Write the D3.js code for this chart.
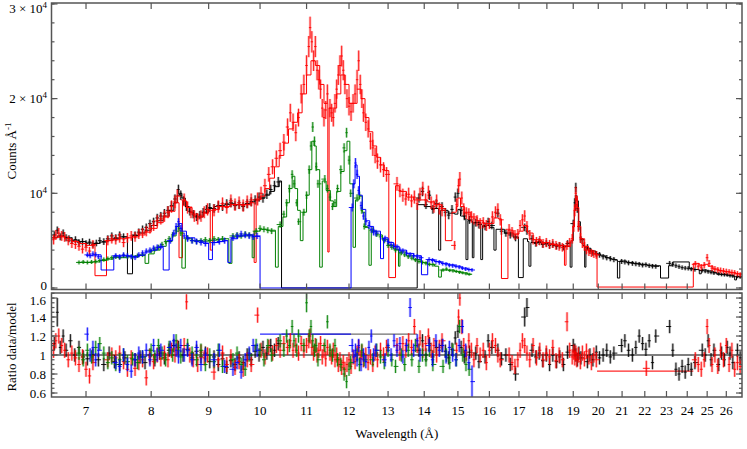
<!DOCTYPE html>
<html><head><meta charset="utf-8">
<script src="https://cdn.jsdelivr.net/npm/d3@7"></script>
<style>
body{margin:0;background:#fff}
svg{display:block}
text{font-family:"Liberation Serif","Times New Roman",serif;fill:#000}
</style>
</head><body><svg id="c" width="747" height="449"></svg>
<script>
// ---------------- DATA ----------------
const xTicks = [7,8,9,10,11,12,13,14,15,16,17,18,19,20,21,22,23,24,25,26];
const countTicks = [0,10000,20000,30000];
const countTickMant = ["0","","2 × ","3 × "];
const ratioTicks = [0.6,0.8,1,1.2,1.4,1.6];

// [wavelength (Å), counts/Å]
const blackCounts = [[6.56,5600],[6.60,6100],[6.64,5400],[6.68,5800],[6.72,5300],[6.76,5200],[6.80,5000],[6.85,5100],[6.90,4800],[6.95,4900],[7.00,4700],[7.05,4850],[7.10,4600],[7.15,4750],[7.20,5000],[7.26,4900],[7.32,5200],[7.38,5500],[7.44,5300],[7.50,5600],[7.56,5400],[7.74,5600],[7.80,5900],[7.86,6200],[7.92,6400],[7.98,6800],[8.04,7000],[8.10,7400],[8.16,7600],[8.22,7900],[8.28,8200],[8.34,8700],[8.40,9400],[8.46,10400],[8.50,9800],[8.55,9200],[8.60,8600],[8.66,8100],[8.72,7800],[8.78,7500],[8.84,7700],[8.90,8000],[8.96,8300],[9.02,8500],[9.10,8400],[9.18,8700],[9.26,8600],[9.34,8900],[9.42,9000],[9.50,8700],[9.58,8800],[9.66,8600],[9.74,8900],[9.82,9100],[9.90,9300],[9.98,9600],[10.06,9500],[10.14,9900],[10.22,10400],[10.30,10800],[10.38,11200],
[13.85,9500],[13.95,10200],[14.05,8800],[14.15,9800],[14.25,8300],[14.35,8900],[14.52,8600],[14.62,8000],[14.72,7700],[14.82,8300],[14.92,9600],[15.0,10000],[15.1,8200],[15.2,7600],[15.36,7200],[15.56,6900],[15.66,6700],[15.86,6500],[15.96,7000],[16.08,6600],[16.28,7900],[16.4,6000],[16.55,5800],[16.7,5600],[16.88,5300],[17.2,6400],[17.28,6000],[17.46,5200],[17.6,4700],[17.72,4900],[17.85,4600],[17.98,4700],[18.1,4500],[18.22,4600],[18.36,4400],[18.48,4500],[18.62,4300],[18.78,4700],[19.0,6800],[19.06,9000],[19.1,10600],[19.16,8400],[19.22,6500],[19.3,5100],[19.56,4300],[19.66,3900],[19.78,3700],[19.92,3600],[20.05,3500],[20.2,3300],[20.35,3200],[20.5,3100],[20.65,3000],[20.98,2800],[21.12,2750],[21.28,2650],[21.45,2600],[21.6,2550],[21.75,2500],[21.9,2420],[22.05,2450],[22.2,2350],[22.35,2300],[22.5,2280],[23.15,2600],[23.3,2500],[23.45,2350],[23.6,2250],[23.75,2150],[23.9,2100],[24.05,2080],[24.2,2000],[24.38,1950],[24.75,1850],[24.9,1780],[25.05,1720],[25.2,1650],[25.35,1580],[25.6,1500],[25.75,1420],[25.9,1400],[26.05,1380],[26.2,1300],[26.35,1250],[26.6,1200],[26.75,1150]];
// model: [wavelength where the step starts, model counts]
const blackModel = [[6.52,5300],[6.6,5500],[6.7,5300],[6.8,5050],[6.9,4900],[7.0,4750],[7.1,4700],[7.2,4850],[7.3,5050],[7.4,5250],[7.5,5400],[7.62,1500],[7.7,5550],[7.8,5800],[7.9,6100],[8.0,6600],[8.1,7100],[8.2,7600],[8.3,8200],[8.38,9000],[8.44,9800],[8.48,10000],[8.52,9500],[8.58,8600],[8.65,8000],[8.72,7600],[8.8,7500],[8.9,8000],[9.0,8400],[9.1,8600],[9.2,8700],[9.3,8800],[9.4,8900],[9.5,8800],[9.6,8800],[9.7,8900],[9.8,9100],[9.9,9300],[10.0,9500],[10.1,9800],[10.2,10200],[10.3,10700],[10.4,11300],[10.45,0],[13.8,8800],[14.0,8600],[14.2,8400],[14.42,4000],[14.48,8200],[14.7,7900],[14.9,7800],[15.0,8300],[15.08,7600],[15.2,7300],[15.25,3000],[15.31,7100],[15.45,3200],[15.5,6900],[15.72,3000],[15.78,6600],[16.0,6400],[16.15,4000],[16.22,6200],[16.5,5800],[16.8,5400],[16.98,1100],[17.15,5200],[17.3,4900],[17.35,2300],[17.42,4800],[17.8,4650],[18.2,4500],[18.6,4400],[18.88,2200],[18.95,5000],[19.0,6500],[19.04,8200],[19.08,9800],[19.14,9200],[19.2,7000],[19.28,5200],[19.38,4500],[19.45,2200],[19.5,4200],[19.7,3900],[19.9,3600],[20.1,3400],[20.3,3200],[20.5,3050],[20.7,2950],[20.8,1050],[20.9,2850],[21.2,2700],[21.5,2600],[21.8,2500],[22.1,2400],[22.4,2350],[22.72,1050],[23.1,2350],[23.3,2750],[24.1,2050],[24.3,1950],[24.6,1500],[24.7,1900],[25.0,1800],[25.3,1650],[25.5,1450],[26.0,1350],[26.4,1250],[26.45,850],[26.55,1200],[26.85,1200]];

const redCounts = [[6.55,5100],[6.58,5600],[6.62,5800],[6.66,5500],[6.70,5400],[6.75,5000],[6.80,4700],[6.85,4600],[6.90,4400],[6.95,4100],[7.00,4300],[7.05,3900],[7.10,4600],[7.32,5000],[7.38,5200],[7.44,5100],[7.50,5300],[7.56,4800],[7.62,5300],[7.68,5500],[7.74,5400],[7.80,5700],[7.86,5800],[7.92,6000],[7.98,6300],[8.04,6600],[8.10,7100],[8.16,7300],[8.22,7600],[8.28,8000],[8.34,8600],[8.40,9100],[8.44,9700],[8.56,9300],[8.62,8500],[8.68,8000],[8.74,7600],[8.80,7300],[8.86,7600],[8.92,8000],[8.98,8300],[9.10,8200],[9.18,8600],[9.26,8900],[9.34,8500],[9.42,9200],[9.50,8800],[9.58,9000],[9.66,8700],[9.74,9100],[9.82,9300],[9.95,9400],[10.02,10000],[10.1,10800],[10.18,12000],[10.26,12800],[10.34,13700],[10.42,14500],[10.5,15400],[10.58,17000],[10.64,18500],[10.70,17500],[10.76,16400],[10.82,18000],[10.88,20500],[10.94,21500],[11.0,23500],[11.05,25500],[11.08,27500],[11.12,26000],[11.16,24000],[11.2,25500],[11.24,23000],[11.28,22000],[11.32,21000],[11.36,19000],[11.4,18000],[11.44,18800],[11.48,20500],[11.54,19000],[11.58,18500],[11.62,18000],[11.66,19500],[11.7,21000],[11.74,22500],[11.78,23500],[11.82,24500],[11.86,23000],[11.9,21500],[11.95,20000],[12.0,19200],[12.05,18600],[12.1,19500],[12.15,20500],[12.2,22000],[12.24,24000],[12.28,21500],[12.32,20000],[12.36,18500],[12.42,17500],[12.48,16800],[12.54,15500],[12.6,14800],[12.66,14000],[12.72,13400],[12.8,13000],[12.88,12500],[12.96,12000],[13.24,11000],[13.32,10300],[13.4,9800],[13.48,9400],[13.56,9900],[13.64,9200],[13.72,9600],[13.8,8900],[13.88,9900],[13.96,10500],[14.04,9300],[14.12,10100],[14.2,9000],[14.28,8600],[14.36,9200],[14.44,8400],[14.52,8200],[14.9,4500],[14.96,8800],[15.02,10800],[15.06,11500],[15.12,9500],[15.18,8300],[15.26,7900],[15.34,7800],[15.42,7500],[15.5,7300],[15.6,7100],[15.7,6800],[15.8,6900],[15.9,6600],[16.0,6800],[16.1,7500],[16.2,8000],[16.28,8300],[16.36,7200],[16.66,6200],[16.76,5900],[16.86,5600],[16.96,5700],[17.04,6600],[17.12,7200],[17.2,7600],[17.28,6500],[17.38,5600],[17.5,5100],[17.62,4900],[17.74,5000],[17.86,4700],[17.98,4800],[18.1,4600],[18.22,4700],[18.34,4500],[18.46,4400],[18.58,4300],[18.76,4500],[18.86,4800],[18.96,5200],[19.02,6500],[19.06,8200],[19.1,10000],[19.14,8800],[19.2,6500],[19.28,5300],[19.36,4700],[19.44,4400],[19.52,4000],[19.62,3800],[19.72,3700],[19.82,3600],[19.92,3500],[24.4,2500],[24.55,2300],[24.7,2200],[24.85,2400],[25.0,3200],[25.1,2600],[25.25,2100],[25.4,2000],[25.55,1900],[25.7,1850],[25.85,1800],[26.0,1750],[26.15,1700],[26.3,1650],[26.45,1600],[26.6,1500],[26.75,1400]];
const redModel = [[6.52,5300],[6.6,5400],[6.7,5200],[6.8,4900],[6.9,4700],[7.0,4500],[7.13,1300],[7.3,5000],[7.4,5100],[7.5,5200],[7.6,5300],[7.7,5400],[7.8,5600],[7.9,5900],[8.0,6300],[8.1,6900],[8.2,7500],[8.3,8100],[8.4,9000],[8.47,3200],[8.53,9200],[8.6,8500],[8.7,7800],[8.8,7500],[8.9,7900],[9.0,8200],[9.03,4000],[9.07,8300],[9.2,8600],[9.4,8800],[9.6,8800],[9.8,9000],[9.88,2700],[9.92,9300],[10.0,9700],[10.1,10500],[10.2,11600],[10.3,12800],[10.4,14000],[10.5,15300],[10.6,16800],[10.7,17500],[10.8,18500],[10.9,20500],[11.0,22500],[11.1,24000],[11.2,23500],[11.3,21500],[11.4,19500],[11.49,3800],[11.52,19000],[11.6,19000],[11.7,20500],[11.8,22500],[11.9,21500],[12.0,19500],[12.1,19500],[12.2,21000],[12.3,20000],[12.4,18000],[12.5,16500],[12.6,15000],[12.7,13800],[12.8,13000],[12.9,12400],[13.02,1100],[13.2,10800],[13.3,10200],[13.5,9600],[13.7,9300],[13.9,9300],[14.1,9100],[14.3,8800],[14.5,8400],[14.62,5000],[14.82,8000],[14.95,8600],[15.0,9500],[15.08,8600],[15.2,8000],[15.4,7500],[15.6,7100],[15.8,6800],[16.0,6800],[16.15,7400],[16.3,7300],[16.4,1000],[16.62,6100],[16.8,5700],[17.0,6000],[17.15,6600],[17.3,5800],[17.5,5100],[17.8,4800],[18.1,4600],[18.4,4500],[18.66,2400],[18.72,4400],[18.9,5000],[18.98,6500],[19.04,8500],[19.1,9700],[19.16,8500],[19.22,6500],[19.3,5200],[19.45,4400],[19.6,3900],[19.8,3600],[19.95,100],[24.3,2600],[24.6,2400],[24.85,2500],[25.05,2300],[25.3,2000],[25.6,1800],[25.9,1700],[26.2,1600],[26.5,1500],[26.85,1500]];

const greenCounts = [[6.90,2700],[6.96,2750],[7.02,2700],[7.08,2750],[7.14,2800],[7.20,2900],[7.26,3000],[7.32,3100],[7.38,3200],[7.44,3300],[7.50,3200],[7.56,3400],[7.62,3300],[7.70,3300],[7.78,3400],[7.86,3500],[8.00,3900],[8.06,4100],[8.12,4300],[8.18,4600],[8.24,4900],[8.30,5200],[8.36,5600],[8.42,6100],[8.46,6500],[8.50,5800],[8.62,5300],[8.70,5000],[8.78,4900],[8.86,5000],[8.94,5100],[9.02,5000],[9.10,5200],[9.18,5100],[9.26,5200],[9.46,5500],[9.54,5600],[9.62,5500],[9.70,5700],[9.78,5600],[9.92,6000],[10.0,6300],[10.08,6200],[10.16,6100],[10.24,6000],[10.42,6700],[10.5,7800],[10.56,9000],[10.62,10500],[10.68,12000],[10.72,11000],[10.78,9000],[10.82,7000],[10.94,8000],[11.0,9800],[11.06,12500],[11.1,15000],[11.14,17000],[11.18,15500],[11.22,12800],[11.26,11000],[11.42,11500],[11.48,10500],[11.54,9600],[11.6,8600],[11.66,9000],[11.72,10500],[11.8,12500],[11.88,14800],[11.94,16400],[12.0,13500],[12.04,10000],[12.2,9500],[12.26,9800],[12.32,8200],[12.38,6500],[12.6,6100],[12.7,5700],[12.8,5400],[12.9,5000],[13.0,4500],[13.1,4300],[13.2,4000],[13.36,3700],[13.45,3500],[13.55,3300],[13.65,3150],[13.75,2950],[13.85,2800],[13.95,2700],[14.05,2600],[14.15,2500],[14.25,2450],[14.55,1900],[14.65,2000],[14.75,1850],[14.85,1800],[14.95,1750],[15.05,1650],[15.15,1600],[15.25,1500],[15.35,1450]];
const greenModel = [[6.88,2700],[7.0,2700],[7.1,2750],[7.2,2900],[7.3,3050],[7.4,3250],[7.5,3200],[7.6,3300],[7.7,3350],[7.8,3450],[7.9,2600],[7.96,3600],[8.05,4000],[8.15,4400],[8.25,4900],[8.35,5500],[8.42,6000],[8.47,6300],[8.52,2100],[8.58,5200],[8.7,5000],[8.85,4950],[9.0,5050],[9.15,5150],[9.3,5200],[9.38,2600],[9.44,5400],[9.6,5500],[9.75,5600],[9.84,3200],[9.88,6000],[10.0,6200],[10.15,6100],[10.32,2200],[10.38,6500],[10.48,7500],[10.56,9000],[10.62,10500],[10.68,11800],[10.74,10500],[10.8,8200],[10.86,5000],[10.92,8000],[11.0,9800],[11.06,12500],[11.12,15500],[11.17,15000],[11.22,12500],[11.3,2200],[11.36,11300],[11.45,10300],[11.55,9200],[11.62,8600],[11.7,10200],[11.8,12300],[11.88,14500],[11.95,15500],[12.02,11000],[12.1,4300],[12.16,9300],[12.25,9700],[12.33,8000],[12.4,6400],[12.5,2400],[12.56,6000],[12.7,5600],[12.85,5100],[13.0,4500],[13.15,4100],[13.28,2300],[13.32,3800],[13.5,3400],[13.7,3000],[13.9,2700],[14.1,2500],[14.3,2300],[14.42,1150],[14.5,1900],[14.7,1900],[14.9,1750],[15.1,1600],[15.3,1450],[15.42,1450]];

const blueCounts = [[7.02,3500],[7.06,3400],[7.10,3600],[7.14,3500],[7.18,3300],[7.44,3400],[7.50,3300],[7.56,3500],[7.62,3400],[7.68,3300],[7.74,3200],[7.80,3500],[7.86,3700],[7.92,3900],[7.98,4000],[8.04,4200],[8.10,4300],[8.16,4400],[8.32,5000],[8.38,5800],[8.42,6500],[8.46,7000],[8.50,6300],[8.56,5500],[8.62,5200],[8.70,5000],[8.78,4900],[8.86,4800],[8.94,4700],[9.10,4800],[9.20,4900],[9.30,5000],[9.46,5300],[9.54,5500],[9.62,5700],[9.70,5600],[9.78,5500],[9.86,5400],[9.94,5500],[12.08,8500],[12.12,11000],[12.16,13200],[12.2,12000],[12.24,10300],[12.3,8700],[12.36,7600],[12.42,7000],[12.5,6600],[12.56,6200],[12.62,5900],[12.68,5800],[12.92,5200],[13.0,4900],[13.08,4600],[13.16,4400],[13.24,4300],[13.32,4000],[13.4,3900],[13.5,3700],[13.6,3500],[13.7,3400],[13.8,3300],[13.88,3200],[14.14,3000],[14.24,2900],[14.34,2800],[14.44,2700],[14.54,2600],[14.64,2500],[14.74,2400],[14.84,2350],[14.94,2300],[15.04,2200],[15.14,2100],[15.24,2000],[15.34,1950],[15.44,1900]];
const blueModel = [[7.0,3450],[7.1,3500],[7.22,1900],[7.41,3400],[7.55,3400],[7.7,3300],[7.8,3450],[7.9,3800],[8.0,4000],[8.1,4300],[8.2,1900],[8.3,5000],[8.36,5700],[8.42,6500],[8.47,6800],[8.52,6000],[8.6,5300],[8.75,4950],[8.9,4750],[9.0,3000],[9.07,4800],[9.2,4900],[9.3,5000],[9.36,2700],[9.42,5200],[9.55,5500],[9.7,5600],[9.85,5450],[10.0,0],[12.05,8500],[12.1,11000],[12.15,13000],[12.2,11800],[12.26,9800],[12.33,8300],[12.42,7100],[12.52,6500],[12.62,6000],[12.8,3100],[12.88,5300],[13.0,4800],[13.15,4400],[13.3,4000],[13.5,3650],[13.7,3400],[13.92,1400],[14.1,3000],[14.3,2800],[14.5,2600],[14.7,2450],[14.9,2300],[15.1,2100],[15.3,1950],[15.46,1950]];

// ratio panel: [wavelength, data/model, optional error]
const blackRatio = [[6.56,1.12],[6.6,1.45,0.15],[6.64,1.08],[6.68,1.2],[6.72,1.05],[6.78,1.15],[6.84,1.0],[6.9,1.08],[6.96,0.98],[7.02,0.96],[7.1,1.0],[7.18,0.95],[7.26,0.9],[7.34,1.02],[7.42,0.93],[7.5,0.9],[7.58,0.97],[7.74,0.95],[7.82,0.98],[7.9,0.92],[7.98,1.0],[8.06,0.95],[8.14,1.02],[8.22,0.97],[8.3,1.05],[8.38,1.1],[8.46,1.08],[8.54,1.0],[8.62,1.06],[8.7,0.97],[8.78,1.04],[8.86,0.98],[8.94,1.02],[9.02,0.93],[9.1,0.98],[9.18,0.9],[9.26,0.96],[9.34,0.87],[9.42,0.94],[9.5,0.9],[9.58,0.97],[9.66,0.92],[9.74,1.0],[9.82,0.95],[9.9,1.04],[9.98,1.0],[10.06,1.08],[10.14,1.02],[10.22,1.1],[10.3,1.05],[10.38,1.12],[13.85,1.05],[13.95,1.15],[14.05,1.0],[14.15,1.12],[14.25,0.98],[14.35,1.08],[14.52,1.1],[14.62,1.04],[14.72,0.97],[14.82,1.06],[14.92,1.18],[15.0,1.25],[15.1,1.08],[15.2,0.98],[15.36,1.03],[15.56,1.02],[15.66,0.93],[15.86,0.98],[15.96,1.15],[16.08,1.08],[16.28,1.05],[16.4,0.96],[16.55,1.0],[16.7,0.9],[16.88,0.8],[17.2,1.4,0.1],[17.28,1.5,0.1],[17.46,1.05],[17.6,0.98],[17.72,1.02],[17.85,0.94],[17.98,1.0],[18.1,0.9],[18.22,1.0],[18.36,0.93],[18.48,0.98],[18.62,0.9],[18.78,1.03],[19.0,1.1],[19.06,1.05],[19.1,1.0],[19.16,0.95],[19.22,1.02],[19.3,0.97],[19.56,0.93],[19.66,1.0],[19.78,0.95],[19.92,1.03],[20.05,0.97],[20.2,1.0],[20.35,1.05],[20.5,0.98],[20.65,1.02],[20.98,1.1],[21.12,1.15],[21.28,1.05],[21.45,1.0],[21.6,1.08],[21.75,1.2],[21.9,1.12],[22.05,1.06],[22.2,1.15],[22.35,0.92],[22.5,1.2],[23.15,1.3],[23.3,1.05],[23.45,0.85],[23.6,0.8],[23.75,0.88],[23.9,0.82],[24.05,0.9],[24.2,0.85],[24.38,0.92],[24.75,1.05],[24.9,1.0],[25.05,1.15],[25.2,0.95],[25.35,1.05],[25.6,0.9],[25.75,1.02],[25.9,0.95],[26.05,1.08],[26.2,1.02],[26.35,0.92],[26.6,1.05],[26.75,0.97]];
const redRatio = [[6.55,1.05],[6.58,1.15],[6.62,1.2],[6.66,1.1],[6.7,1.05],[6.75,0.95],[6.8,1.02],[6.85,0.97],[6.9,0.9],[6.95,0.98],[7.0,0.85],[7.05,0.78],[7.1,0.92],[7.32,0.95],[7.38,1.0],[7.44,0.97],[7.5,1.02],[7.56,0.93],[7.62,0.85],[7.68,0.97],[7.74,0.86],[7.8,0.92],[7.86,0.95],[7.92,0.76],[7.98,0.98],[8.04,0.93],[8.1,1.0],[8.16,0.96],[8.22,1.02],[8.28,0.95],[8.34,1.05],[8.4,1.0],[8.44,1.08],[8.56,1.1],[8.6,1.56],[8.66,1.0],[8.72,0.95],[8.8,0.9],[8.86,1.03],[8.92,0.97],[8.98,1.0],[9.1,0.82],[9.18,0.95],[9.26,1.02],[9.34,0.9],[9.42,0.98],[9.5,0.87],[9.58,0.93],[9.66,0.85],[9.74,0.95],[9.82,0.9],[9.95,1.42],[10.02,1.05],[10.1,0.98],[10.18,1.08],[10.26,1.02],[10.34,1.1],[10.42,1.05],[10.5,1.12],[10.58,1.08],[10.64,1.15],[10.7,1.05],[10.76,1.1],[10.82,1.02],[10.88,1.12],[10.94,1.05],[11.0,1.1],[11.05,1.15],[11.08,1.2],[11.12,1.08],[11.16,1.02],[11.2,1.1],[11.24,1.0],[11.28,1.05],[11.32,1.12],[11.36,0.98],[11.4,1.05],[11.44,0.96],[11.48,1.08],[11.54,1.02],[11.58,0.98],[11.62,1.05],[11.66,0.95],[11.7,1.0],[11.74,0.9],[11.78,0.95],[11.82,0.87],[11.86,0.92],[11.9,0.85],[11.95,0.9],[12.0,0.95],[12.05,0.88],[12.1,0.98],[12.15,0.93],[12.2,1.02],[12.24,1.08],[12.28,0.97],[12.32,1.03],[12.36,0.95],[12.42,1.0],[12.48,0.92],[12.54,0.98],[12.6,0.9],[12.66,1.02],[12.72,0.95],[12.8,1.05],[12.88,1.0],[12.96,1.08],[13.24,1.1],[13.32,1.02],[13.4,1.12],[13.48,1.05],[13.56,1.15],[13.64,1.08],[13.72,1.3],[13.8,1.1],[13.88,1.18],[13.96,1.05],[14.04,1.12],[14.12,1.2],[14.2,1.05],[14.28,1.1],[14.36,1.0],[14.44,1.08],[14.52,1.15],[14.96,1.05],[15.02,1.4],[15.06,1.6],[15.12,1.3],[15.18,1.1],[15.26,1.02],[15.34,1.15],[15.42,1.05],[15.5,0.95],[15.6,1.1],[15.7,1.0],[15.8,1.05],[15.9,0.92],[16.0,1.05],[16.1,1.15],[16.2,1.1],[16.28,1.0],[16.36,0.95],[16.66,1.0],[16.76,0.92],[16.86,0.88],[16.96,0.95],[17.04,1.05],[17.12,1.15],[17.2,1.1],[17.28,1.02],[17.38,0.95],[17.5,1.1],[17.62,0.97],[17.74,1.05],[17.86,0.95],[17.98,1.02],[18.1,0.98],[18.22,1.08],[18.34,0.94],[18.46,1.0],[18.58,0.95],[18.76,1.35,0.1],[18.86,1.05],[18.96,0.98],[19.02,1.03],[19.06,0.97],[19.1,1.02],[19.14,0.95],[19.2,1.0],[19.28,0.93],[19.36,1.02],[19.44,0.96],[19.52,1.04],[19.62,0.98],[19.72,0.92],[19.82,1.0],[19.92,0.95],[22.07,0.86],[24.4,0.95],[24.55,0.9],[24.7,0.85],[24.85,0.95],[25.0,1.3],[25.1,1.1],[25.25,0.9],[25.4,1.0],[25.55,0.88],[25.7,1.05],[25.85,0.95],[26.0,1.1],[26.15,0.9],[26.3,1.05],[26.45,0.85],[26.6,0.92],[26.75,0.88]];
const greenRatio = [[6.9,1.02],[6.96,0.95],[7.02,1.05],[7.08,0.98],[7.14,1.08],[7.2,1.12],[7.26,1.02],[7.32,0.92],[7.38,0.97],[7.44,0.9],[7.5,0.95],[7.56,1.0],[7.62,0.93],[7.7,0.96],[7.78,0.92],[7.86,0.98],[8.0,1.05],[8.06,0.98],[8.12,1.1],[8.18,1.02],[8.24,0.95],[8.3,1.08],[8.36,1.0],[8.42,1.15],[8.46,1.05],[8.5,0.98],[8.62,1.1],[8.7,1.02],[8.78,0.95],[8.86,1.05],[8.94,0.9],[9.02,1.0],[9.1,0.93],[9.18,1.05],[9.26,0.88],[9.46,0.95],[9.54,1.02],[9.62,0.9],[9.7,0.85],[9.78,1.0],[9.92,1.1],[10.0,1.05],[10.08,0.95],[10.16,1.1],[10.24,1.0],[10.42,1.15],[10.5,1.05],[10.56,1.2],[10.62,1.1],[10.68,1.3],[10.72,1.15],[10.78,1.05],[10.82,1.2],[10.94,1.1],[11.0,1.55,0.1],[11.06,1.2],[11.1,1.3],[11.14,1.15],[11.18,1.05],[11.22,1.1],[11.26,0.95],[11.42,1.1],[11.48,1.35],[11.54,1.05],[11.6,1.0],[11.66,1.1],[11.72,0.95],[11.8,0.9],[11.88,0.8],[11.94,0.72],[12.0,0.85],[12.04,0.92],[12.2,1.0],[12.26,0.9],[12.32,1.05],[12.38,0.95],[12.6,0.95],[12.7,1.05],[12.8,0.98],[12.9,0.92],[13.0,1.05],[13.1,0.95],[13.2,0.88],[13.36,1.0],[13.45,0.9],[13.55,1.05],[13.65,0.95],[13.75,1.1],[13.85,0.88],[13.95,1.0],[14.05,0.95],[14.15,1.05],[14.25,0.9],[14.55,0.88],[14.65,1.0],[14.75,0.92],[14.85,1.05],[14.95,0.95],[15.05,1.3],[15.15,1.0],[15.25,0.9],[15.35,0.85]];
const blueRatio = [[7.02,1.22],[7.06,1.0],[7.1,1.08],[7.14,0.95],[7.18,1.05],[7.44,0.92],[7.5,0.88],[7.56,1.0],[7.62,0.9],[7.68,0.83],[7.74,0.95],[7.8,1.02],[7.86,0.98],[7.92,1.05],[7.98,0.95],[8.04,1.1],[8.1,1.0],[8.16,1.05],[8.32,1.08],[8.38,1.15],[8.42,1.05],[8.46,0.98],[8.5,1.1],[8.56,1.0],[8.62,1.05],[8.7,0.95],[8.78,1.08],[8.86,0.9],[8.94,1.0],[9.1,0.95],[9.2,1.05],[9.3,0.88],[9.46,0.85],[9.54,0.92],[9.62,0.82],[9.7,0.95],[9.78,1.02],[9.86,1.1],[9.94,1.05],[12.08,1.1],[12.12,0.98],[12.16,1.05],[12.2,0.95],[12.24,1.1],[12.3,0.9],[12.36,1.0],[12.42,0.93],[12.5,1.08],[12.56,1.2],[12.62,1.0],[12.68,1.05],[12.92,0.95],[13.0,1.1],[13.08,1.0],[13.16,1.15],[13.24,1.05],[13.32,1.12],[13.4,0.98],[13.5,1.1],[13.6,1.5,0.1],[13.7,1.05],[13.8,1.15],[13.88,1.0],[14.14,1.1],[14.24,0.95],[14.34,1.15],[14.44,1.05],[14.54,1.1],[14.64,0.98],[14.74,1.08],[14.84,1.0],[14.94,0.95],[15.04,1.1],[15.14,1.3],[15.24,1.05],[15.34,0.92],[15.44,0.72,0.17]];

// ratio where the model is empty
const gapSeries = ["black","blue","red"];
const gapStart = [10.45,10.0,19.95];
const gapEnd = [13.8,12.05,24.3];
const gapRatio = [1.22,1.22,0.83];

// ---------------- DRAWING ----------------
const colors = {black:"#000000", red:"#ff0000", green:"#008000", blue:"#0000ff"};
const errK = {black:5, red:7, green:4, blue:4.5};
const ratioErr = {black:0.07, red:0.08, green:0.07, blue:0.07};

const svg = d3.select("#c");
const L=51.5, R=742, T1=3, B1=289.5, T2=293, B2=397;
const x = d3.scaleLog().domain([6.522, 26.85]).range([L, R]);
const y1 = d3.scaleLinear().domain([-160, 30100]).range([B1, T1]);
const y2 = d3.scaleLinear().domain([0.558, 1.653]).range([B2, T2]);

const defs = svg.append("defs");
defs.append("clipPath").attr("id","cp1").append("rect").attr("x",L).attr("y",T1).attr("width",R-L).attr("height",B1-T1);
defs.append("clipPath").attr("id","cp2").append("rect").attr("x",L).attr("y",T2).attr("width",R-L).attr("height",B2-T2);

const g1 = svg.append("g").attr("clip-path","url(#cp1)");
const g2 = svg.append("g").attr("clip-path","url(#cp2)");

function drawModel(g, nodes, color){
  g.append("path").datum(nodes)
    .attr("d", d3.line().x(d=>x(d[0])).y(d=>y1(d[1])).curve(d3.curveStepAfter))
    .attr("fill","none").attr("stroke",color).attr("stroke-width",1);
}
function drawPoints(g, pts, ys, color, errOf){
  const px = pts.map(d=>x(d[0]));
  const items = pts.map((d,i)=>{
    const a = i>0 ? Math.min((px[i]-px[i-1])/2, 3.5) : 3;
    const b = i<pts.length-1 ? Math.min((px[i+1]-px[i])/2, 3.5) : 3;
    const e = d[2]!=null ? d[2] : errOf(d[1]);
    return {x:px[i], y:ys(d[1]), y0:ys(d[1]-e), y1:ys(d[1]+e), a:Math.max(a,1.2), b:Math.max(b,1.2)};
  });
  const gg = g.append("g");
  gg.selectAll(".h").data(items).join("line")
    .attr("x1",d=>d.x).attr("x2",d=>d.x).attr("y1",d=>d.y0).attr("y2",d=>d.y1)
    .attr("stroke",color).attr("stroke-width",2.6).attr("stroke-opacity",0.28);
  gg.selectAll(".v").data(items).join("line")
    .attr("x1",d=>d.x).attr("x2",d=>d.x).attr("y1",d=>d.y0).attr("y2",d=>d.y1)
    .attr("stroke",color).attr("stroke-width",1).attr("stroke-opacity",0.85);
  gg.selectAll(".w").data(items).join("line")
    .attr("x1",d=>d.x-d.a).attr("x2",d=>d.x+d.b).attr("y1",d=>d.y).attr("y2",d=>d.y)
    .attr("stroke",color).attr("stroke-width",1).attr("stroke-opacity",0.9);
}

const upper = [["black",blackCounts,blackModel],["red",redCounts,redModel],["green",greenCounts,greenModel],["blue",blueCounts,blueModel]];
upper.forEach(([n,pts,mod])=>{
  drawPoints(g1, pts, y1, colors[n], v=>errK[n]*Math.sqrt(v));
  drawModel(g1, mod, colors[n]);
});

// lower panel
g2.append("line").attr("x1",L).attr("x2",R).attr("y1",y2(1)).attr("y2",y2(1)).attr("stroke","#555").attr("stroke-width",1.5);
gapSeries.forEach((n,i)=>{
  g2.append("line").attr("x1",x(gapStart[i])).attr("x2",x(gapEnd[i])).attr("y1",y2(gapRatio[i])).attr("y2",y2(gapRatio[i]))
    .attr("stroke", n==="black" ? "#555" : colors[n]).attr("stroke-width",1.3).attr("stroke-opacity",0.85);
});
const lower = [["black",blackRatio],["red",redRatio],["green",greenRatio],["blue",blueRatio]];
lower.forEach(([n,pts])=>drawPoints(g2, pts, y2, colors[n], v=>ratioErr[n]));

// frames & ticks
const axisColor = "#555";
function frame(t,b){
  svg.append("rect").attr("x",L).attr("y",t).attr("width",R-L).attr("height",b-t)
    .attr("fill","none").attr("stroke",axisColor).attr("stroke-width",1.5);
  xTicks.forEach(v=>{
    const xx = x(v);
    svg.append("line").attr("x1",xx).attr("x2",xx).attr("y1",b).attr("y2",b-6).attr("stroke",axisColor).attr("stroke-width",1.2);
    svg.append("line").attr("x1",xx).attr("x2",xx).attr("y1",t).attr("y2",t+6).attr("stroke",axisColor).attr("stroke-width",1.2);
  });
}
frame(T1,B1); frame(T2,B2);

function yTicks(ys, majors, minors){
  minors.forEach(v=>{
    const yy = ys(v);
    svg.append("line").attr("x1",L).attr("x2",L+3).attr("y1",yy).attr("y2",yy).attr("stroke",axisColor).attr("stroke-width",1.2);
    svg.append("line").attr("x1",R).attr("x2",R-3).attr("y1",yy).attr("y2",yy).attr("stroke",axisColor).attr("stroke-width",1.2);
  });
  majors.forEach(v=>{
    const yy = ys(v);
    svg.append("line").attr("x1",L).attr("x2",L+6).attr("y1",yy).attr("y2",yy).attr("stroke",axisColor).attr("stroke-width",1.2);
    svg.append("line").attr("x1",R).attr("x2",R-6).attr("y1",yy).attr("y2",yy).attr("stroke",axisColor).attr("stroke-width",1.2);
  });
}
yTicks(y1, countTicks, d3.range(0,30001,2000));
yTicks(y2, ratioTicks, d3.range(0.6,1.651,0.05));

// upper y labels (top label nudged down so it stays inside the page)
countTicks.forEach((v,i)=>{
  let by = y1(v)+4.5;
  if (i===countTicks.length-1) by = 13;
  if (v===0) by = y1(v)+2.5;
  const t = svg.append("text").attr("x",47).attr("y",by).attr("text-anchor","end").attr("font-size",13);
  if (v===0){ t.text("0"); }
  else {
    t.append("tspan").text(countTickMant[i]+"10");
    t.append("tspan").attr("dy",-5).attr("font-size",9).text("4");
  }
});
// lower y labels
ratioTicks.forEach((v,i)=>{
  const by = i===ratioTicks.length-1 ? y2(v)+6.5 : y2(v)+4.5;
  svg.append("text").attr("x",46).attr("y",by).attr("text-anchor","end").attr("font-size",13).text(d3.format("~g")(v));
});
// x labels
xTicks.forEach(v=>{
  svg.append("text").attr("x",x(v)).attr("y",415).attr("text-anchor","middle").attr("font-size",13).text(v);
});
svg.append("text").attr("x",(L+R)/2).attr("y",438).attr("text-anchor","middle").attr("font-size",13).text("Wavelength (Å)");
const yl = svg.append("text").attr("transform","translate(16,151) rotate(-90)").attr("text-anchor","middle").attr("font-size",13);
yl.append("tspan").text("Counts Å");
yl.append("tspan").attr("dy",-5).attr("font-size",9).text("-1");
svg.append("text").attr("transform","translate(16,347) rotate(-90)").attr("text-anchor","middle").attr("font-size",13).text("Ratio data/model");
</script>
</body></html>
